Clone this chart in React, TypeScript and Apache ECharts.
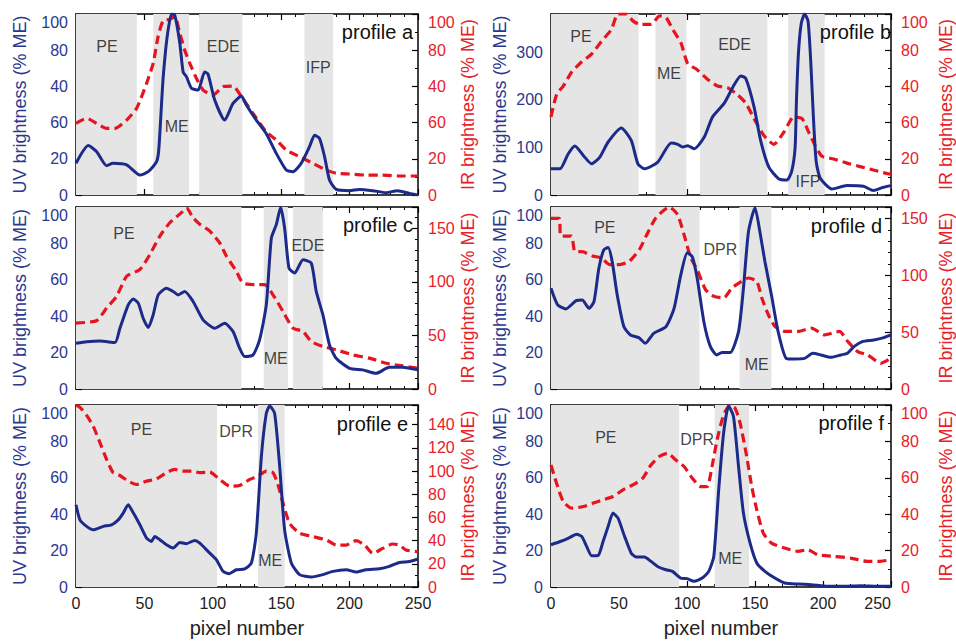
import React, { useEffect, useRef } from "react";
import * as echarts from "echarts";

// ---------------- data ----------------
const xTicks = [0, 50, 100, 150, 200, 250];
// tick labels as printed in the reference (index = value / 20); 40 and 60 are swapped there
const swappedTickLabels = ["0", "20", "60", "40", "80", "100"];
const panelNames = ["profile a", "profile b", "profile c", "profile d", "profile e", "profile f"];

const uvA = [[0,17.5],[9,27.3],[15,24],[22.4,16.2],[27,17.5],[37,16.6],[46.7,11],[52.8,12.9],[58.9,18.4],[60.5,25],[62.5,50],[63.7,65],[65.5,80],[67.5,92],[69.8,100],[72.2,99.4],[75.9,83.8],[78.3,68],[80.7,65.4],[84.4,59],[89.3,58],[94,68],[96.5,66.8],[101.4,52.5],[108.7,41.4],[114.8,50.6],[120.9,54.7],[124.5,49.7],[131.8,41.4],[139,34],[146.4,23],[153.7,13.8],[158.6,12.9],[164.6,17.5],[170.7,26.7],[174.4,33],[178,31.3],[181.7,21.2],[185.3,8.3],[190.2,3.1],[200,2.4],[207,3.1],[217,2.4],[226.7,1.3],[235,2.4],[243.7,0.9],[250,0]];
const irA = [[0,39.6],[7.8,42.4],[15,39.6],[22.4,36.8],[28.5,36.8],[37,41.4],[44.3,47.9],[51.6,61.7],[56.4,72.7],[60,87.5],[63.7,96.3],[68.6,97],[72.2,98.5],[75.9,89.3],[79.5,80],[83.2,72.7],[88,64.5],[92.9,58],[100.2,55.2],[107.5,59.9],[114.8,60.2],[120.9,54.3],[129.4,45.1],[139,35],[146.4,30.4],[153.7,24.9],[163.4,21.2],[173.2,17.5],[182.9,13.8],[190.2,12],[200,11.6],[212,11],[224,11],[236.4,10.5],[250,10.5]];
const bandsA = [[0,44.5],[56.5,82.6],[90,121.6],[167,188]];
const regionLabelsA = [["PE",22.6,82.3],["ME",73.6,37.6],["EDE",107.6,82.3],["IFP",177,70.7]];

const uvB = [[0,54.9],[6.6,54.9],[12.7,86.6],[17.6,102.8],[23.7,83.1],[29.8,65.5],[35.9,79.6],[42,111.3],[51.7,140.8],[59,114.8],[63.9,65.5],[68.8,54.9],[78.5,69],[88.3,109.2],[93.2,106.3],[96.8,100.7],[100.5,103.5],[105.4,97.2],[112.7,121.8],[118.8,164],[127.3,192.3],[134.6,231],[139.5,250],[143.2,245],[149.3,185.2],[154.1,114.8],[160.2,58.5],[167.6,33.8],[173.7,31.7],[177,50],[179.5,100],[180.5,200],[182,300],[184,360],[186.5,380],[189,365],[191,280],[193,160],[195,70],[198,35],[206.6,12.7],[217.6,19.7],[229.8,18.3],[237,9.2],[244.4,16.2],[250,19.7]];
const irB = [[0,43.2],[4.1,55.5],[9,60.2],[15.1,67.8],[22.4,73.5],[29.8,77.8],[37,84.8],[44.4,91.5],[49.3,100],[55.4,100],[60.2,96.2],[65.1,94.3],[73.7,94.3],[79.8,99],[84.6,98],[89.5,91.5],[95.6,83.9],[100.5,72.5],[106.6,69.7],[115,64],[122.4,60.2],[129.8,59.3],[137,55.5],[143.2,50.8],[149.3,42.2],[156.6,32.8],[163.9,28],[171.2,34.7],[178.5,43.2],[184.6,42.2],[189.5,34.7],[194.4,27.1],[199.3,21.4],[207.8,19.9],[217.6,17.6],[227.3,15.7],[237,13.8],[246.8,11.9],[250,11.5]];
const bandsB = [[0,64.4],[76.8,99.6],[109.6,159.1],[174.4,201.2]];
const regionLabelsB = [["PE",22,332],["ME",86.7,256],["EDE",135,315],["IFP",189,28]];

const uvC = [[0,25.1],[7.8,26],[17.5,26.4],[28.5,25.5],[32.1,33.4],[38.2,46.2],[41.8,49.5],[45.5,47.2],[49.1,38.9],[52.8,33.8],[56.4,40.7],[60.1,51.7],[66.1,55.4],[71,53.6],[74.7,51.7],[79.5,53.6],[85.6,48.1],[92.9,38],[101.4,33.4],[108.7,36.1],[114.8,31.6],[119.6,22.4],[123.3,17.8],[129.4,18.7],[134.2,27],[139.1,46.2],[142.8,82.9],[146.4,90.3],[149.6,99.8],[152.5,88.4],[155.7,66.4],[159.9,63.7],[165.9,71],[172,69.2],[175.6,53.6],[180.5,40.7],[185.3,24.2],[190.2,16.9],[200,11.4],[209.6,10.5],[219.4,8.6],[229,11.9],[238.8,11.9],[250,10.5]];
const irC = [[0,61.6],[15,63.8],[22.4,75.6],[29.7,86.6],[37,105.3],[46.7,111.6],[54,125.6],[61.3,142.8],[68.6,155.3],[77.1,164.7],[80.7,169.4],[85.6,160],[90.5,153.8],[97.8,147.5],[105,136.6],[110,124],[117.2,110],[122,99],[130.6,97.5],[137.9,97.5],[144,88],[151.3,72.5],[158.6,56.9],[165.9,53.8],[172,44.4],[180.5,39.7],[190.2,36.6],[202.3,31.9],[214.5,28.8],[226.7,24],[238.8,21.6],[250,19.4]];
const bandsC = [[0,120.9],[137.2,154.9],[158.6,180.4]];
const regionLabelsC = [["PE",35,85.7],["ME",146,17],["EDE",169.5,79]];

const uvD = [[0,55.3],[4.9,46.2],[11,44],[18.2,48.4],[23,48.9],[27.9,44.3],[31.6,48],[35.2,66.3],[38.8,76.4],[42,77.7],[45,70],[48.7,51.6],[53.6,34.2],[58.4,29.7],[64.6,28.2],[69.4,25.1],[75.5,30.6],[84.5,34.2],[90.5,44.3],[95.4,62.6],[100.2,74.9],[103.9,72.7],[107.5,60.8],[112.4,37],[117.2,23.3],[122,18.7],[125.7,20.1],[131.8,20],[137.9,31.5],[141.5,55.3],[145.2,86.4],[150,99.6],[153.6,86.4],[157.3,70],[162.1,51.6],[167,31.5],[173,16.8],[179,16.5],[186.4,16.8],[192.5,19.6],[198.5,18.7],[205.8,17.4],[213.1,18.7],[218,19.6],[222.8,23.3],[228.9,26],[237.4,26.9],[244.7,28.2],[250,29.7]];
const irD = [[0,150],[6,150],[7.3,134.4],[15,134.4],[17.5,121],[23.5,120.6],[30.8,116.8],[37,115.3],[43,109.4],[50.5,109.4],[57.7,112.4],[65,122.6],[69.9,134.4],[77.2,150.6],[87,160],[93,153.5],[97.8,135.9],[102.7,115.3],[107.5,105],[113.6,87.4],[119.7,81.5],[127,80],[133,88.8],[140.3,94.7],[145.2,97.6],[151.3,94.7],[155,80],[159.8,65.3],[164.7,55],[172,50.6],[181.8,50.6],[191.5,53.5],[201.2,47.6],[212.1,50.6],[218.2,41.8],[225.5,32.9],[232.8,30],[242.5,22.6],[250,27]];
const bandsD = [[0,109.2],[138.6,162.1]];
const regionLabelsD = [["PE",39.6,88.5],["DPR",124.5,76.4],["ME",151.2,13.2]];

const uvE = [[0,45.2],[2.9,36.9],[7.8,33.3],[12.6,31.4],[20,33.3],[26,34.2],[30.9,36.9],[34.5,40.6],[38.2,45.2],[40.6,42.4],[46.7,34.2],[51.6,26.9],[55.2,25],[57.6,27.8],[61.3,26],[66.1,23.2],[71,21.4],[75.9,24.5],[80.7,23.8],[86.8,25.6],[90.5,24.1],[96.5,19.6],[102.6,15],[107.5,8.6],[111.9,7.3],[117.2,9.5],[123.3,9.9],[128.2,13.2],[131.8,29.6],[135.5,71.7],[139.1,95.4],[141.6,99.5],[145.2,95.4],[148.9,66.2],[152.5,31.4],[157.4,13.2],[163.4,6.8],[172,5.5],[180.5,6.8],[187.8,8.6],[197.5,9.5],[204.8,8.2],[212,9.5],[221.8,10],[229,11.3],[236.4,13.5],[243.7,14],[250,15.4]];
const irE = [[0,157],[2.9,155],[7.8,148],[12.6,138.6],[17.5,124.6],[22.4,110],[27.2,98.6],[32.1,96.2],[38.2,91.3],[44.3,88.4],[51.6,91.3],[58.9,93.3],[66.1,98.6],[72.2,101.4],[78.3,100],[84.4,100],[90.5,98.6],[97.8,99.1],[105,92.8],[112.4,87],[119.6,87.5],[127,92.8],[133,95.7],[139.1,100],[144,98.6],[147.6,88.4],[151.3,72.5],[156.1,55],[163.4,46.4],[173.2,43.5],[182.9,40.6],[190.2,36.2],[197.5,36.2],[204.8,40],[210.9,36.2],[217,29],[224.2,33.3],[231.5,37.1],[236.4,36.2],[241.2,31.9],[250,30.4]];
const bandsE = [[0,103.1],[133,152.5]];
const regionLabelsE = [["PE",47.9,86.3],["DPR",117,85.2],["ME",142,14.8]];

const uvF = [[0,23.2],[6.8,25],[12.9,26.9],[18.9,29],[22.6,27.8],[26.2,22.3],[29.9,17.2],[34.7,17.4],[38.3,25],[42,33.3],[45.6,40.6],[49.3,37.8],[54.1,27.8],[59,18.6],[62.6,16.5],[68.7,16.5],[73.5,14.1],[78.4,11.3],[84.5,9.5],[89.3,8.6],[95.4,4.9],[100.2,4.6],[105.1,3.1],[111.2,4.9],[116,8.6],[119.7,16.8],[123.3,53.4],[126.9,84.5],[130.6,99.5],[134.2,93.6],[137.9,66.2],[141.5,40.6],[146.4,24.1],[151.3,13.2],[157.3,8.6],[164.6,4.9],[171.8,2.2],[181.6,1.6],[191.3,1.3],[203.4,0.4],[215.5,0.4],[227.7,0.7],[239.8,0.4],[250,0.4]];
const irF = [[0,67],[4.1,57],[9,47],[15.3,43.3],[23.8,44.2],[31.1,46.1],[38.3,47.9],[45.6,49.7],[52.9,53.4],[60.2,56.1],[67.5,59.8],[73.5,67],[79.6,71.7],[85.7,73.5],[91.7,69.8],[97.8,66.2],[103.9,59.8],[109.9,55.2],[114.8,55.2],[118.4,66.2],[122.1,80.8],[126.9,94.5],[131.8,100],[135.4,98.2],[139.1,89.9],[143.9,71.7],[147.6,55.2],[151.3,42.4],[156.1,29.6],[162.1,24.1],[171.8,21.4],[181.6,19.6],[188.8,20.5],[196.1,17.7],[208.3,16.8],[220.4,15.9],[232.5,14.1],[242.2,14.1],[250,15]];
const bandsF = [[0,94.2],[120.4,145.6]];
const regionLabelsF = [["PE",40.3,82.4],["DPR",107.5,80.8],["ME",131.8,15.9]];

// axis scales per panel
const uvMaxes = [100, 380, 100, 100, 100, 100];
const uvIntervals = [20, 100, 20, 20, 20, 20];
const irMaxes = [100, 100, 170, 160, 157, 100];
const irIntervals = [20, 20, 50, 50, 20, 20];

// ---------------- styling / layout ----------------
const NAVY = "#1c2a8a";
const RED = "#e6141e";
const UV_TEXT = "#2a3890";
const IR_TEXT = "#e8202a";
const BAND = "#e5e5e5";
const FONT = "'Liberation Sans', Arial, Helvetica, sans-serif";

const gridBoxes = [
  { left: 76, top: 14, width: 342, height: 181 },
  { left: 551, top: 14, width: 342, height: 181 },
  { left: 76, top: 207, width: 342, height: 182 },
  { left: 551, top: 207, width: 342, height: 182 },
  { left: 76, top: 405, width: 342, height: 182 },
  { left: 551, top: 405, width: 342, height: 182 },
];
const titleBoxes = [
  { right: 543, top: 22 },
  { right: 65, top: 22 },
  { right: 543, top: 215 },
  { right: 74, top: 216 },
  { right: 548, top: 414 },
  { right: 72, top: 413 },
];
const swappedUV = [true, false, false, false, false, false];
const swappedIR = [true, true, false, false, false, false];
const blueDots = [false, true, true, false, true, false];
const dotSplits = [14, 18, 14, 14, 14, 14];

const uvData = [uvA, uvB, uvC, uvD, uvE, uvF];
const irData = [irA, irB, irC, irD, irE, irF];
const bandData = [bandsA, bandsB, bandsC, bandsD, bandsE, bandsF];
const labelData = [regionLabelsA, regionLabelsB, regionLabelsC, regionLabelsD, regionLabelsE, regionLabelsF];

function makeFormatter(swapped: boolean, interval: number) {
  return (v: number) => {
    if (Math.abs(v % interval) > 1e-6) return "";
    if (swapped) return swappedTickLabels[Math.round(v / 20)] ?? "";
    return String(v);
  };
}

function buildOption() {
  const grid: any[] = [];
  const xAxis: any[] = [];
  const yAxis: any[] = [];
  const series: any[] = [];
  const title: any[] = [];
  const blackLine = { show: true, onZero: false, lineStyle: { color: "#000", width: 1.5 } };

  for (let i = 0; i < 6; i++) {
    const isRight = i % 2 === 1;
    const isBottom = i >= 4;
    grid.push({ ...gridBoxes[i], containLabel: false });
    title.push({
      text: panelNames[i],
      ...titleBoxes[i],
      padding: 0,
      textStyle: { fontSize: 20, fontWeight: "normal", color: "#111", fontFamily: FONT },
    });
    const xBase = {
      gridIndex: i,
      type: "value",
      min: xTicks[0],
      max: xTicks[xTicks.length - 1],
      interval: xTicks[1] - xTicks[0],
      axisLine: blackLine,
      axisTick: { show: true, inside: true, length: 6, lineStyle: { color: "#000", width: 1.2 } },
      minorTick: { show: true, splitNumber: 5, length: 3, lineStyle: { color: "#000", width: 1 } },
      splitLine: { show: false },
      minorSplitLine: { show: false },
    };
    xAxis.push({
      ...xBase,
      position: "bottom",
      axisLabel: {
        show: isBottom,
        fontSize: 16,
        color: "#222",
        margin: 8,
        fontFamily: FONT,
        alignMaxLabel: isRight ? "right" : "center",
      },
      name: isBottom ? "pixel number" : "",
      nameLocation: "middle",
      nameGap: 31,
      nameTextStyle: { fontSize: 20, color: "#222", fontFamily: FONT },
    });
    xAxis.push({ ...xBase, position: "top", axisLabel: { show: false } });

    yAxis.push({
      gridIndex: i,
      type: "value",
      position: "left",
      min: 0,
      max: uvMaxes[i],
      interval: uvIntervals[i],
      axisLine: blackLine,
      axisTick: { show: true, inside: true, length: 6, lineStyle: { color: "#000", width: 1.2 } },
      minorTick: blueDots[i]
        ? { show: true, splitNumber: dotSplits[i], length: 3, lineStyle: { color: NAVY, width: 2 } }
        : { show: true, splitNumber: 4, length: 3, lineStyle: { color: "#000", width: 1 } },
      splitLine: { show: false },
      minorSplitLine: { show: false },
      axisLabel: {
        color: UV_TEXT,
        fontSize: 16,
        margin: 8,
        fontFamily: FONT,
        formatter: makeFormatter(swappedUV[i], uvIntervals[i]),
        verticalAlignMaxLabel: "top",
      },
      name: "UV brightness (% ME)",
      nameLocation: "middle",
      nameGap: isRight ? 42 : 47,
      nameTextStyle: { color: UV_TEXT, fontSize: 18, fontFamily: FONT },
    });
    yAxis.push({
      gridIndex: i,
      type: "value",
      position: "right",
      min: 0,
      max: irMaxes[i],
      interval: irIntervals[i],
      axisLine: blackLine,
      axisTick: { show: true, inside: true, length: 6, lineStyle: { color: "#000", width: 1.2 } },
      minorTick: { show: true, splitNumber: irIntervals[i] === 50 ? 5 : 2, length: 3, lineStyle: { color: "#000", width: 1 } },
      splitLine: { show: false },
      minorSplitLine: { show: false },
      axisLabel: {
        color: IR_TEXT,
        fontSize: 16,
        margin: 10,
        fontFamily: FONT,
        formatter: makeFormatter(swappedIR[i], irIntervals[i]),
        verticalAlignMaxLabel: "top",
      },
      name: "IR brightness (% ME)",
      nameLocation: "middle",
      nameGap: isRight ? 46 : 40,
      nameRotate: 90,
      nameTextStyle: { color: IR_TEXT, fontSize: 18, fontFamily: FONT },
    });

    series.push({
      type: "line",
      xAxisIndex: 2 * i,
      yAxisIndex: 2 * i + 1,
      data: irData[i],
      showSymbol: false,
      smooth: 0.2,
      lineStyle: { color: RED, width: 3.2, type: [9, 5] },
      z: 3,
      markArea: {
        silent: true,
        itemStyle: { color: BAND },
        data: bandData[i].map((b) => [{ xAxis: b[0] }, { xAxis: b[1] }]),
      },
    });
    series.push({
      type: "line",
      xAxisIndex: 2 * i,
      yAxisIndex: 2 * i,
      data: uvData[i],
      showSymbol: false,
      smooth: 0.2,
      lineStyle: { color: NAVY, width: 3 },
      z: 4,
    });
    series.push({
      type: "scatter",
      xAxisIndex: 2 * i,
      yAxisIndex: 2 * i,
      symbolSize: 1,
      itemStyle: { color: "rgba(0,0,0,0)" },
      silent: true,
      z: 5,
      data: labelData[i].map((l) => ({ name: l[0], value: [l[1], l[2]] })),
      label: { show: true, position: "inside", formatter: "{b}", color: "#111", fontSize: 16, fontFamily: FONT },
    });
  }

  return {
    animation: false,
    textStyle: { fontFamily: FONT },
    title,
    grid,
    xAxis,
    yAxis,
    series,
  };
}

export default function App() {
  const ref = useRef<HTMLDivElement>(null);
  useEffect(() => {
    if (!ref.current) return;
    const chart = echarts.init(ref.current, undefined, { renderer: "svg" });
    chart.setOption(buildOption() as any);
    return () => chart.dispose();
  }, []);
  return (
    <div
      ref={ref}
      style={{ position: "absolute", left: 0, top: 0, width: 956, height: 643, background: "#fff" }}
    />
  );
}
